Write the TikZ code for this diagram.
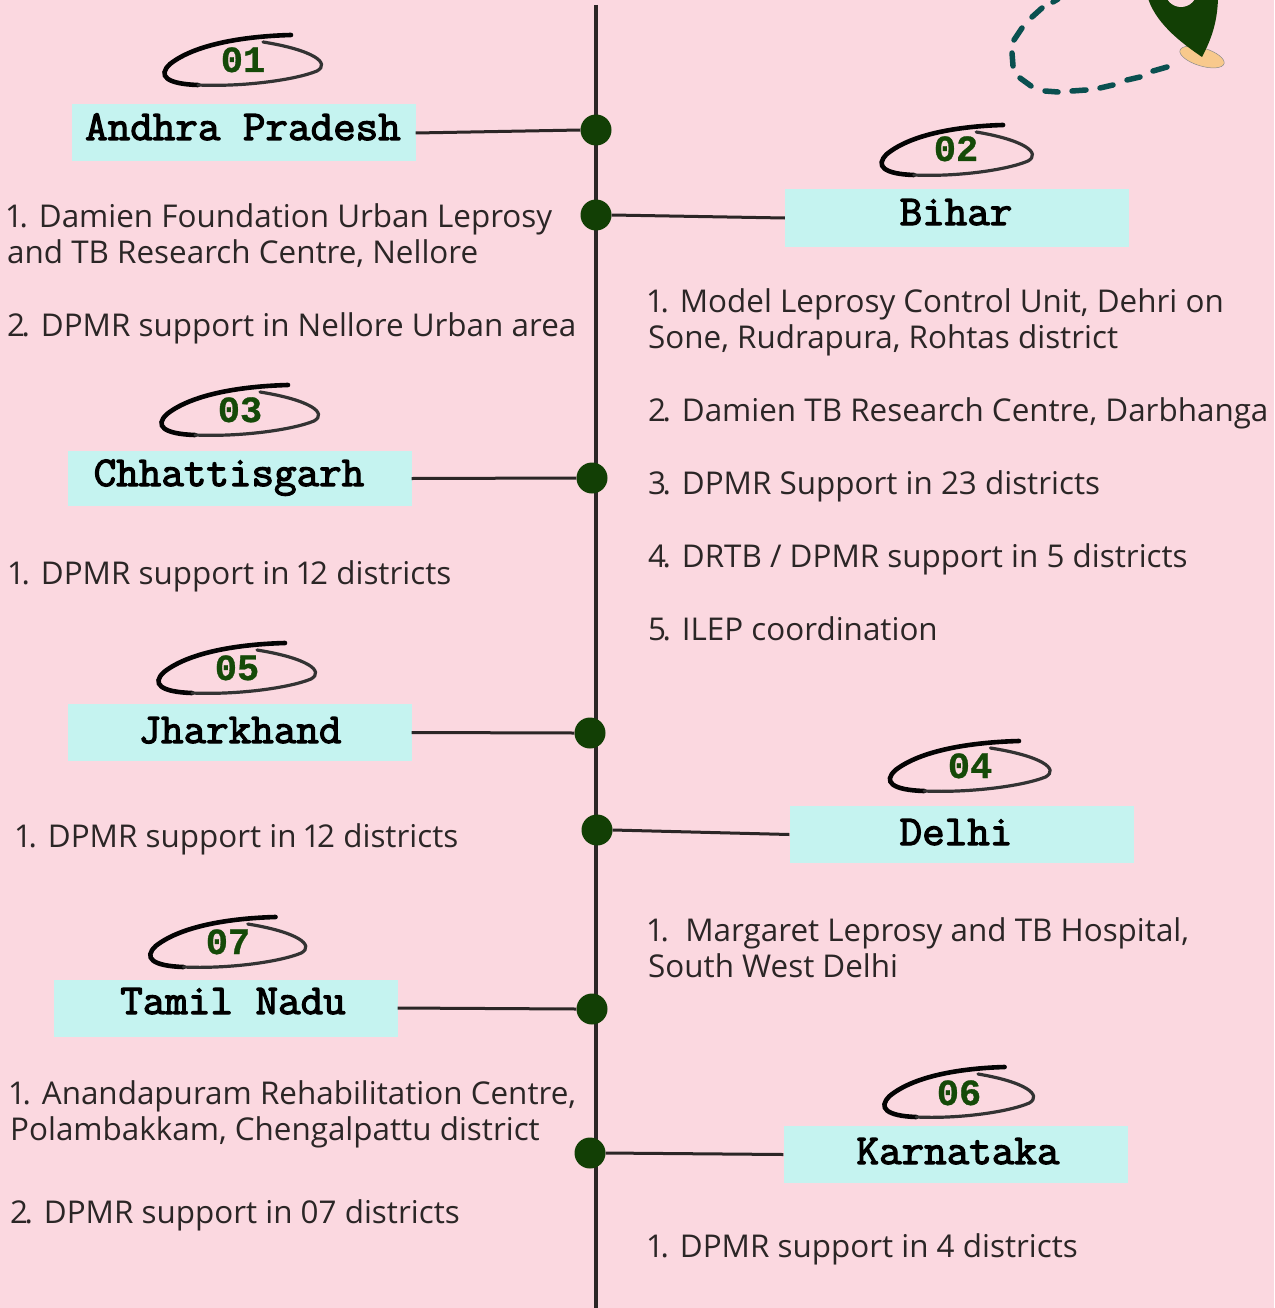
\documentclass[tikz,border=0pt]{standalone}
\usepackage{fontspec}
\setmainfont[Numbers={Proportional,Lining}]{Open Sans}
\newfontfamily\nummono[FakeBold=0.8]{Liberation Mono Bold}
\newfontfamily\headmono[FakeBold=2.8,FakeStretch=1.03]{Latin Modern Mono}
\newcommand{\nk}{\kern-3.5pt}
\definecolor{bgpink}{HTML}{FBD8E0}
\definecolor{boxaqua}{HTML}{C5F3F0}
\definecolor{darkgreen}{HTML}{123F05}
\definecolor{numgreen}{HTML}{154A08}
\definecolor{linedark}{HTML}{2B2626}
\definecolor{teal}{HTML}{0A5050}
\definecolor{pinbase}{HTML}{F8C98C}
\tikzset{
  x=1pt,y=-1pt,
  rail/.style={draw=linedark,line width=4pt},
  link/.style={draw=linedark,line width=3pt},
  dotm/.style={circle,fill=darkgreen,minimum size=31pt,inner sep=0pt},
  statebox/.style={fill=boxaqua,minimum width=344pt,minimum height=57pt,inner sep=0pt},
  statename/.style={anchor=base,inner sep=0pt,font=\fontsize{42.5}{42.5}\selectfont\headmono,text=black},
  numlabel/.style={anchor=base,inner sep=0pt,font=\fontsize{37}{37}\selectfont\nummono,text=numgreen},
  body/.style={anchor=base west,inner sep=0pt,align=left,text=linedark,font=\fontsize{31.4}{36}\selectfont},
  scrib/.style={draw=black!90!linedark,line width=4.6pt,line cap=round},
  scribthin/.style={draw=black!80,line width=3.2pt,line cap=round},
}
\newcommand{\scribble}[3]{%
  \begin{scope}[shift={(#1,#2)},xscale=#3]
    \draw[scrib] (48,-25) .. controls (10,-24) and (-45,-18) .. (-73,4) .. controls (-86,16) and (-76,24) .. (-45,25);
    \draw[scribthin] (-45,25) .. controls (0,27) and (52,20) .. (74,11) .. controls (88,3) and (70,-10) .. (20,-18);
  \end{scope}}
\begin{document}
\begin{tikzpicture}
\useasboundingbox (0,0) rectangle (1274,1308);
\fill[bgpink] (0,0) rectangle (1274,1308);
\coordinate (railtop) at (596,5);
\coordinate (railbot) at (596,1308);
\draw[rail] (railtop) -- (railbot);
% map pin and dashed route
\draw[teal,line width=5.5pt,line cap=round]
 (1167,67)--(1153,71) (1140,77)--(1127,80) (1113,85)--(1100,88) (1086,90)--(1072,91)
 (1058,92)--(1045,91) (1031,86)--(1020,78) (1013,66)--(1012,53) (1014,40)--(1022,28)
 (1032,17)--(1042,8) (1053,2)--(1058,-1);
\begin{scope}
\clip (0,0) rectangle (1274,1308);
\fill[pinbase,draw=black!45,line width=0.5pt,rotate around={-17:(1202,57)}] (1202,57) ellipse [x radius=23,y radius=9];
\fill[darkgreen] (1147,-5) .. controls (1154,22) and (1180,42) .. (1202,57) .. controls (1212,38) and (1218,20) .. (1218,-5) -- cycle;
\fill[bgpink] (1181,-9) circle [radius=16];
\end{scope}
% boxes
\node[statebox] (ap) at (243.5,133) {};
\node[statebox] (bi) at (957,218) {};
\node[statebox,minimum height=55pt] (ch) at (239.5,478.5) {};
\node[statebox] (jh) at (239.5,732.5) {};
\node[statebox] (de) at (961.5,834.5) {};
\node[statebox] (tn) at (225.5,1008) {};
\node[statebox] (ka) at (955.5,1154.5) {};
% dots
\node[dotm] (dap) at (596,130) {};
\node[dotm] (dbi) at (596,215) {};
\node[dotm] (dch) at (592,478) {};
\node[dotm] (djh) at (590,733) {};
\node[dotm] (dde) at (597,830) {};
\node[dotm] (dtn) at (592,1009) {};
\node[dotm] (dka) at (590,1153) {};
% links
\draw[link] (ap.east) -- (dap.west);
\draw[link] (bi.west) -- (dbi.east);
\draw[link] (ch.east) -- (dch.west);
\draw[link] (jh.east) -- (djh.west);
\draw[link] (de.west) -- (dde.east);
\draw[link] (tn.east) -- (dtn.west);
\draw[link] (ka.west) -- (dka.east);
% state names
\node[statename] (nap) at (243,140) {Andhra Pradesh};
\node[statename] (nbi) at (956,225) {Bihar};
\node[statename] (nch) at (229,486) {Chhattisgarh};
\node[statename] (njh) at (240,743) {Jharkhand};
\node[statename] (nde) at (956,845) {Delhi};
\node[statename] (ntn) at (233,1014) {Tamil Nadu};
\node[statename] (nka) at (958,1164) {Karnataka};
% scribbles and numbers
\scribble{243}{60}{1}
\scribble{957}{150}{0.96}
\scribble{240}{410}{1}
\scribble{237}{668}{1}
\scribble{970}{766}{1.02}
\scribble{228}{942}{0.99}
\scribble{959}{1092}{0.95}
\node[numlabel] (n1) at (243,72) {01};
\node[numlabel] (n2) at (956,161) {02};
\node[numlabel] (n3) at (240,422) {03};
\node[numlabel] (n5) at (237,680) {05};
\node[numlabel] (n4) at (970,778) {04};
\node[numlabel] (n7) at (228,954) {07};
\node[numlabel] (n6) at (959,1105) {06};
% body text
\node[body] (t1) at (7,263) {1. Damien Foundation Urban Leprosy\\and TB Research Centre, Nellore};
\node[body] (t2) at (7,336) {2\nk. DPMR support in Nellore Urban area};
\node[body] (t3) at (648,348) {1. Model Leprosy Control Unit, Dehri on\\Sone, Rudrapura, Rohtas district};
\node[body] (t4) at (648,421) {2\nk. Damien TB Research Centre, Darbhanga};
\node[body] (t5) at (648,494) {3\nk. DPMR Support in 23 districts};
\node[body] (t6) at (648,567) {4\nk. DRTB / DPMR support in 5 districts};
\node[body] (t7) at (648,640) {5\nk. ILEP coordination};
\node[body] (t8) at (9,584) {1. DPMR support in 12 districts};
\node[body] (t9) at (16,847) {1. DPMR support in 12 districts};
\node[body] (t10) at (648,977) {1.\ \ Margaret Leprosy and TB Hospital,\\South West Delhi};
\node[body] (t11) at (10,1140) {1. Anandapuram Rehabilitation Centre,\\Polambakkam, Chengalpattu district};
\node[body] (t12) at (10,1223) {2\nk. DPMR support in 07 districts};
\node[body] (t13) at (648,1257) {1. DPMR support in 4 districts};
\end{tikzpicture}
\end{document}
